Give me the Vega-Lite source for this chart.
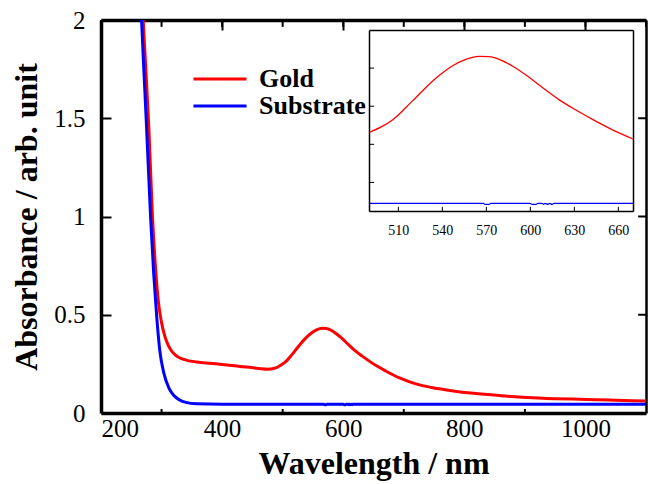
{
  "$schema": "https://vega.github.io/schema/vega-lite/v6.json",
  "width": 545,
  "height": 393,
  "autosize": {"type": "none"},
  "padding": {"left": 101, "top": 20, "right": 2, "bottom": 71},
  "background": "white",
  "config": {
    "view": {"stroke": null},
    "font": "Liberation Serif",
    "axis": {"labelFont": "Liberation Serif", "titleFont": "Liberation Serif", "labelColor": "black", "titleColor": "black", "tickColor": "black", "domainColor": "black", "gridColor": "black", "gridOpacity": 1}
  },
  "datasets": {
    "spectra": [
      {"w": 266, "a": 2.2, "s": "Gold"},
      {"w": 270, "a": 1.98, "s": "Gold"},
      {"w": 274, "a": 1.75, "s": "Gold"},
      {"w": 279, "a": 1.45, "s": "Gold"},
      {"w": 285, "a": 1.0, "s": "Gold"},
      {"w": 290, "a": 0.74, "s": "Gold"},
      {"w": 295, "a": 0.56, "s": "Gold"},
      {"w": 300, "a": 0.46, "s": "Gold"},
      {"w": 305, "a": 0.395, "s": "Gold"},
      {"w": 310, "a": 0.352, "s": "Gold"},
      {"w": 316, "a": 0.318, "s": "Gold"},
      {"w": 323, "a": 0.294, "s": "Gold"},
      {"w": 331, "a": 0.279, "s": "Gold"},
      {"w": 342, "a": 0.268, "s": "Gold"},
      {"w": 358, "a": 0.26, "s": "Gold"},
      {"w": 380, "a": 0.253, "s": "Gold"},
      {"w": 400, "a": 0.247, "s": "Gold"},
      {"w": 430, "a": 0.237, "s": "Gold"},
      {"w": 460, "a": 0.227, "s": "Gold"},
      {"w": 476, "a": 0.223, "s": "Gold"},
      {"w": 490, "a": 0.231, "s": "Gold"},
      {"w": 498, "a": 0.245, "s": "Gold"},
      {"w": 506, "a": 0.264, "s": "Gold"},
      {"w": 515, "a": 0.296, "s": "Gold"},
      {"w": 522, "a": 0.323, "s": "Gold"},
      {"w": 529, "a": 0.35, "s": "Gold"},
      {"w": 538, "a": 0.381, "s": "Gold"},
      {"w": 547, "a": 0.406, "s": "Gold"},
      {"w": 556, "a": 0.423, "s": "Gold"},
      {"w": 565, "a": 0.431, "s": "Gold"},
      {"w": 572, "a": 0.43, "s": "Gold"},
      {"w": 580, "a": 0.421, "s": "Gold"},
      {"w": 588, "a": 0.405, "s": "Gold"},
      {"w": 597, "a": 0.382, "s": "Gold"},
      {"w": 608, "a": 0.35, "s": "Gold"},
      {"w": 620, "a": 0.316, "s": "Gold"},
      {"w": 632, "a": 0.288, "s": "Gold"},
      {"w": 643, "a": 0.264, "s": "Gold"},
      {"w": 655, "a": 0.24, "s": "Gold"},
      {"w": 670, "a": 0.214, "s": "Gold"},
      {"w": 694, "a": 0.177, "s": "Gold"},
      {"w": 720, "a": 0.148, "s": "Gold"},
      {"w": 750, "a": 0.127, "s": "Gold"},
      {"w": 776, "a": 0.115, "s": "Gold"},
      {"w": 815, "a": 0.1, "s": "Gold"},
      {"w": 860, "a": 0.088, "s": "Gold"},
      {"w": 903, "a": 0.079, "s": "Gold"},
      {"w": 950, "a": 0.073, "s": "Gold"},
      {"w": 1002, "a": 0.069, "s": "Gold"},
      {"w": 1050, "a": 0.065, "s": "Gold"},
      {"w": 1100, "a": 0.061, "s": "Gold"},
      {"w": 264, "a": 2.25, "s": "Substrate"},
      {"w": 267, "a": 2.0, "s": "Substrate"},
      {"w": 271, "a": 1.73, "s": "Substrate"},
      {"w": 275, "a": 1.47, "s": "Substrate"},
      {"w": 282, "a": 0.99, "s": "Substrate"},
      {"w": 287, "a": 0.71, "s": "Substrate"},
      {"w": 292, "a": 0.49, "s": "Substrate"},
      {"w": 297, "a": 0.32, "s": "Substrate"},
      {"w": 304, "a": 0.2, "s": "Substrate"},
      {"w": 312, "a": 0.128, "s": "Substrate"},
      {"w": 320, "a": 0.09, "s": "Substrate"},
      {"w": 330, "a": 0.066, "s": "Substrate"},
      {"w": 340, "a": 0.054, "s": "Substrate"},
      {"w": 358, "a": 0.047, "s": "Substrate"},
      {"w": 400, "a": 0.045, "s": "Substrate"},
      {"w": 490, "a": 0.045, "s": "Substrate"},
      {"w": 568, "a": 0.045, "s": "Substrate"},
      {"w": 569, "a": 0.0425, "s": "Substrate"},
      {"w": 572, "a": 0.0425, "s": "Substrate"},
      {"w": 573, "a": 0.045, "s": "Substrate"},
      {"w": 600, "a": 0.045, "s": "Substrate"},
      {"w": 601, "a": 0.0425, "s": "Substrate"},
      {"w": 604, "a": 0.0425, "s": "Substrate"},
      {"w": 605, "a": 0.045, "s": "Substrate"},
      {"w": 608, "a": 0.045, "s": "Substrate"},
      {"w": 609, "a": 0.0425, "s": "Substrate"},
      {"w": 610, "a": 0.045, "s": "Substrate"},
      {"w": 612, "a": 0.0425, "s": "Substrate"},
      {"w": 613, "a": 0.045, "s": "Substrate"},
      {"w": 615, "a": 0.0425, "s": "Substrate"},
      {"w": 616, "a": 0.045, "s": "Substrate"},
      {"w": 670, "a": 0.045, "s": "Substrate"},
      {"w": 800, "a": 0.045, "s": "Substrate"},
      {"w": 900, "a": 0.044, "s": "Substrate"},
      {"w": 1000, "a": 0.044, "s": "Substrate"},
      {"w": 1100, "a": 0.044, "s": "Substrate"}
    ],
    "mainMinorX": [{"v": 300}, {"v": 500}, {"v": 700}, {"v": 900}],
    "mainTopX": [{"v": 200}, {"v": 300}, {"v": 400}, {"v": 500}, {"v": 600}, {"v": 700}, {"v": 800}, {"v": 900}, {"v": 1000}, {"v": 1100}],
    "mainY": [{"v": 0}, {"v": 0.5}, {"v": 1}, {"v": 1.5}, {"v": 2}],
    "insetMajorX": [{"v": 510}, {"v": 540}, {"v": 570}, {"v": 600}, {"v": 630}, {"v": 660}],
    "insetMajorY": [{"v": 0.1}, {"v": 0.2}, {"v": 0.3}, {"v": 0.4}]
  },
  "data": {"name": "spectra"},
  "resolve": {"scale": {"x": "independent", "y": "independent"}, "axis": {"x": "independent", "y": "independent"}},
  "layer": [
    {
      "data": {"name": "mainMinorX"},
      "mark": {"type": "tick", "orient": "vertical", "size": 4, "thickness": 2, "yOffset": -2, "color": "black", "opacity": 1},
      "encoding": {
        "x": {"field": "v", "type": "quantitative", "scale": {"domain": [200, 1100], "nice": false, "zero": false}, "axis": null},
        "y": {"datum": 0, "type": "quantitative", "scale": {"domain": [0, 2], "nice": false}, "axis": null}
      }
    },
    {
      "data": {"name": "mainTopX"},
      "mark": {"type": "rule", "color": "black", "strokeWidth": 2},
      "encoding": {
        "x": {"field": "v", "type": "quantitative", "scale": {"domain": [200, 1100], "nice": false, "zero": false}, "axis": null},
        "y": {"datum": 2, "type": "quantitative", "scale": {"domain": [0, 2], "nice": false}, "axis": null},
        "y2": {"datum": 1.965}
      }
    },
    {
      "data": {"name": "mainY"},
      "mark": {"type": "rule", "color": "black", "strokeWidth": 2},
      "encoding": {
        "y": {"field": "v", "type": "quantitative", "scale": {"domain": [0, 2], "nice": false}, "axis": null},
        "x": {"datum": 1100, "type": "quantitative", "scale": {"domain": [200, 1100], "nice": false, "zero": false}, "axis": null},
        "x2": {"datum": 1087}
      }
    },
    {
      "mark": {"type": "line", "strokeWidth": 3, "clip": true, "interpolate": "monotone"},
      "encoding": {
        "x": {"field": "w", "type": "quantitative", "scale": {"domain": [200, 1100], "nice": false, "zero": false},
          "axis": {"orient": "bottom", "values": [200, 400, 600, 800, 1000], "format": "d", "ticks": false, "grid": true, "gridDash": [10, 2000], "gridWidth": 2, "domain": true, "domainWidth": 3.5, "labelFontSize": 25, "labelPadding": 3, "title": "Wavelength / nm", "titleFontSize": 32, "titleFontWeight": "bold", "titlePadding": 7}},
        "y": {"field": "a", "type": "quantitative", "scale": {"domain": [0, 2], "nice": false},
          "axis": {"orient": "left", "values": [0, 0.5, 1, 1.5, 2], "format": "~g", "ticks": false, "grid": true, "gridDash": [10, 2000], "gridWidth": 2, "domain": true, "domainWidth": 3.5, "labelFontSize": 25, "labelPadding": 16, "title": "Absorbance / arb. unit", "titleFontSize": 32, "titleFontWeight": "bold", "titlePadding": 10}},
        "color": {"field": "s", "type": "nominal", "scale": {"domain": ["Gold", "Substrate"], "range": ["#ff0000", "#0000ff"]},
          "legend": {"orient": "none", "legendX": 106, "legendY": 46, "title": null, "symbolType": "M-4,0H4", "symbolSize": 176, "symbolStrokeWidth": 3, "labelFont": "Liberation Serif", "labelFontWeight": "bold", "labelFontSize": 26, "labelColor": "black", "labelOffset": 26, "rowPadding": 1}}
      }
    },
    {
      "transform": [{"filter": "datum.w < 0"}],
      "mark": {"type": "line"},
      "encoding": {
        "x": {"field": "w", "type": "quantitative", "scale": {"domain": [200, 1100], "nice": false, "zero": false},
          "axis": {"orient": "top", "labels": false, "ticks": false, "grid": false, "domain": true, "domainWidth": 3.5, "title": null}},
        "y": {"field": "a", "type": "quantitative", "scale": {"domain": [0, 2], "nice": false},
          "axis": {"orient": "right", "labels": false, "ticks": false, "grid": false, "domain": true, "domainWidth": 2.5, "title": null}}
      }
    },
    {
      "transform": [{"filter": "datum.w >= 490 && datum.w <= 670"}],
      "mark": {"type": "line", "strokeWidth": 1.3, "interpolate": "monotone"},
      "encoding": {
        "x": {"field": "w", "type": "quantitative", "scale": {"domain": [490, 670], "range": [268, 532], "nice": false, "zero": false},
          "axis": {"orient": "bottom", "offset": -202, "values": [510, 540, 570, 600, 630, 660], "format": "d", "ticks": false, "grid": false, "domain": true, "domainWidth": 1.5, "labelFontSize": 14, "labelPadding": 12, "title": null}},
        "y": {"field": "a", "type": "quantitative", "scale": {"domain": [0.025, 0.5], "range": [191, 10], "nice": false, "zero": false},
          "axis": {"orient": "left", "offset": -268, "labels": false, "ticks": false, "grid": false, "domain": true, "domainWidth": 1.5, "title": null}},
        "color": {"field": "s", "type": "nominal"}
      }
    },
    {
      "transform": [{"filter": "datum.w < 0"}],
      "mark": {"type": "line"},
      "encoding": {
        "x": {"field": "w", "type": "quantitative", "scale": {"domain": [490, 670], "range": [268, 532], "nice": false, "zero": false},
          "axis": {"orient": "top", "offset": -10, "labels": false, "ticks": false, "grid": false, "domain": true, "domainWidth": 1.5, "title": null}},
        "y": {"field": "a", "type": "quantitative", "scale": {"domain": [0.025, 0.5], "range": [191, 10], "nice": false, "zero": false},
          "axis": {"orient": "right", "offset": -13, "labels": false, "ticks": false, "grid": false, "domain": true, "domainWidth": 1.5, "title": null}}
      }
    },
    {
      "data": {"name": "insetMajorX"},
      "mark": {"type": "rule", "color": "black", "strokeWidth": 1},
      "encoding": {
        "x": {"field": "v", "type": "quantitative", "scale": {"domain": [490, 670], "range": [268, 532], "nice": false, "zero": false}, "axis": null},
        "y": {"datum": 0.025, "type": "quantitative", "scale": {"domain": [0.025, 0.5], "range": [191, 10], "nice": false, "zero": false}, "axis": null},
        "y2": {"datum": 0.036}
      }
    },
    {
      "data": {"name": "insetMajorY"},
      "mark": {"type": "rule", "color": "black", "strokeWidth": 1},
      "encoding": {
        "y": {"field": "v", "type": "quantitative", "scale": {"domain": [0.025, 0.5], "range": [191, 10], "nice": false, "zero": false}, "axis": null},
        "x": {"datum": 490, "type": "quantitative", "scale": {"domain": [490, 670], "range": [268, 532], "nice": false, "zero": false}, "axis": null},
        "x2": {"datum": 493.5}
      }
    }
  ]
}
